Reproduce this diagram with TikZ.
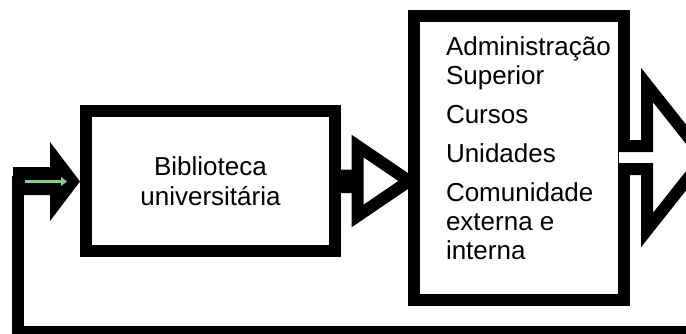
\documentclass[tikz,border=0pt]{standalone}
\usepackage{fontspec}
\setmainfont{Liberation Sans}
\usetikzlibrary{arrows.meta}
\definecolor{setaverde}{RGB}{136,204,136}
\begin{document}
\begin{tikzpicture}[x=1pt, y=-1pt, line width=12pt,
    caixa/.style={draw, line width=12pt, fill=white, inner sep=0pt, font=\fontsize{26}{30}\selectfont},
    texto/.style={inner sep=0pt, align=left, font=\fontsize{26}{29}\selectfont}]
    \useasboundingbox (0,0) rectangle (686,333);

    % Retorno
    \fill (13,167) -- (50,167) -- (50,142) -- (80,181.5) -- (50,221) -- (50,195) -- (13,195) -- cycle;
    \coordinate (r1) at (18,176);
    \coordinate (r2) at (700,332);
    \draw (r1) |- (r2);
    \coordinate (g1) at (25,181.5);
    \coordinate (g2) at (67,181.5);
    \draw[setaverde, line width=3.5pt, -{Triangle[length=6pt, width=9pt]}] (g1) -- (g2);

    % Biblioteca
    \node[caixa, minimum width=249pt, minimum height=140pt, align=center] (bib) at (210.5,181) {Biblioteca\\universitária};
    \filldraw[fill=white] (330,175.5) -- (357.5,175.5) -- (357.5,146) -- (409,181) -- (357.5,216) -- (357.5,187) -- (330,187);

    % Destino
    \node[caixa, minimum width=210pt, minimum height=283.5pt] (dest) at (519,157.75) {};
    \filldraw[fill=white] (619,146) -- (647,146) -- (647,85) -- (704.5,157.5) -- (647,230) -- (647,169) -- (619,169);
    \node[texto, anchor=north west] (lista) at (440,31) {Administração\\Superior\\[10pt]Cursos\\[10pt]Unidades\\[10pt]Comunidade\\externa e\\interna};
\end{tikzpicture}
\end{document}
